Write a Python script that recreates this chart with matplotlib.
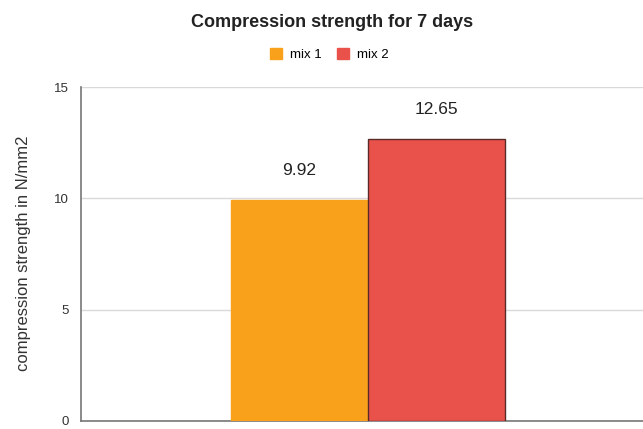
import matplotlib.pyplot as plt
from matplotlib.patches import Patch

plt.rcParams['font.family'] = ['Liberation Sans', 'DejaVu Sans']

# data
series = ['mix 1', 'mix 2']
values = [9.92, 12.65]
colors = ['#F9A11B', '#E9524A']
yticks = [0, 5, 10, 15]

fig = plt.figure(figsize=(6.43, 4.29), dpi=100)
ax = fig.add_axes([0.126, 0.019, 0.874, 0.778])

offsets = [-0.5, 0.5]
for off, val, col, name in zip(offsets, values, colors, series):
    edge = '#5a2a27' if name == 'mix 2' else col
    ax.bar(off, val, width=1.0, color=col, edgecolor=edge, linewidth=1, zorder=3)
    ax.text(off, val + 1.0, f'{val:.2f}', ha='center', va='bottom',
            fontsize=12.5, color='#222222')

ax.set_xlim(-2.095, 2.007)
ax.set_ylim(0, 15)
ax.set_yticks(yticks)
ax.set_xticks([])
ax.tick_params(axis='y', length=0, labelsize=9.5, colors='#333333', pad=9)
ax.grid(axis='y', color='#d9d9d9', linewidth=1, zorder=0)
for s in ['top', 'right']:
    ax.spines[s].set_visible(False)
for s in ['left', 'bottom']:
    ax.spines[s].set_color('#777777')
    ax.spines[s].set_linewidth(1.2)

# y axis title
fig.text(0.036, 0.409, 'compression strength in N/mm2', rotation=90,
         ha='center', va='center', fontsize=12, color='#333333')

fig.text(0.517, 0.948, 'Compression strength for 7 days', ha='center', va='center',
         fontsize=13, fontweight='bold', color='#222222')
handles = [Patch(color=c, label=n) for c, n in zip(colors, series)]
fig.legend(handles=handles, loc='center', bbox_to_anchor=(0.512, 0.872), ncol=2,
           frameon=False, fontsize=9.5, handlelength=0.9, handleheight=0.9,
           columnspacing=1.2, handletextpad=0.6)

fig.savefig('out.png', dpi=100)
